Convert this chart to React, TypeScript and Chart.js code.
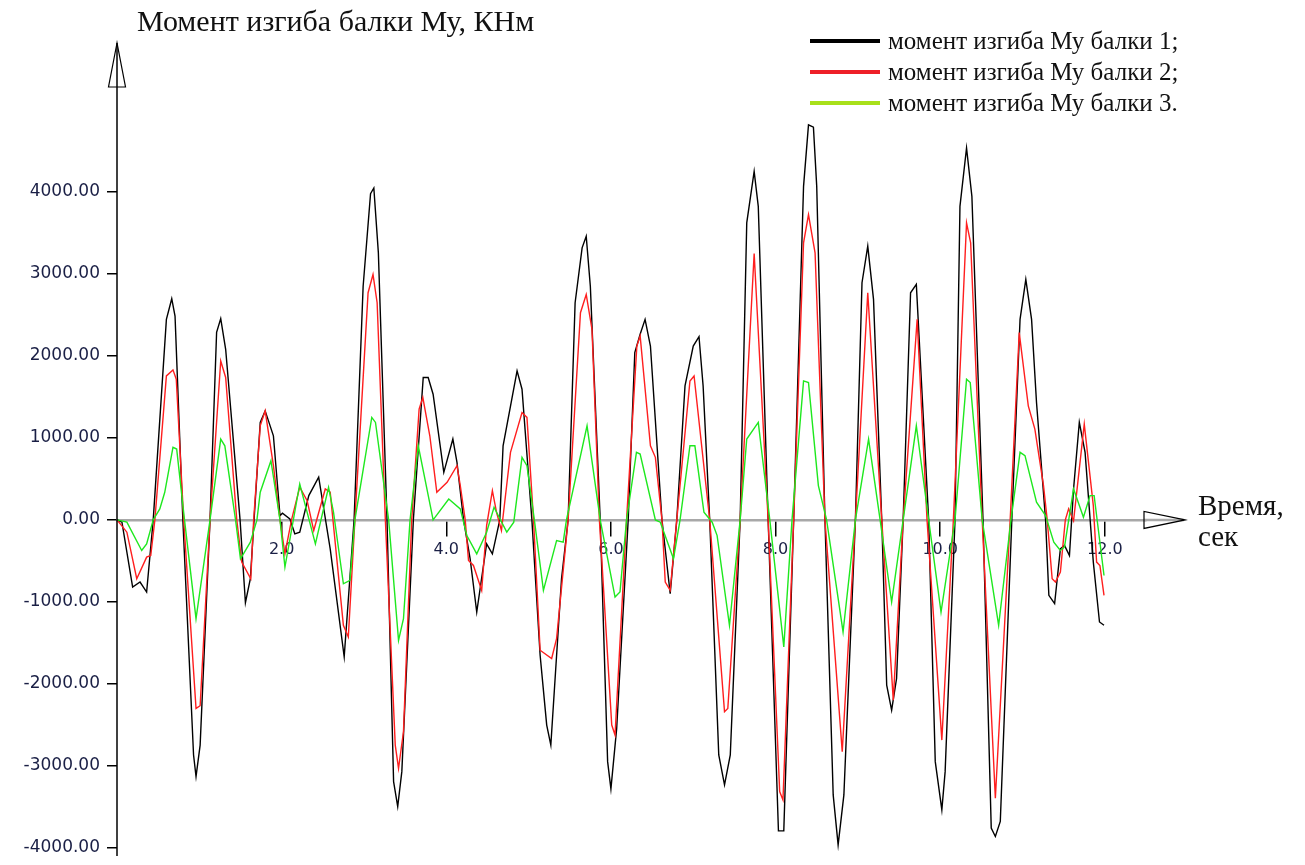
import React, { useEffect, useRef } from "react";
import { Chart, registerables } from "chart.js";

Chart.register(...registerables);

// ---- Data (time in s, moment in kN·m) ----
const t1 = [0.00,0.06,0.19,0.28,0.36,0.44,0.60,0.665,0.705,0.80,0.93,0.96,1.01,1.13,1.21,1.26,1.32,1.495,1.56,1.62,1.665,1.74,1.80,1.90,1.98,2.01,2.10,2.16,2.22,2.33,2.45,2.59,2.76,2.88,2.99,3.08,3.12,3.175,3.28,3.36,3.41,3.46,3.60,3.72,3.78,3.84,3.97,4.08,4.13,4.21,4.29,4.37,4.49,4.56,4.65,4.69,4.86,4.92,5.04,5.14,5.22,5.27,5.40,5.48,5.565,5.65,5.70,5.75,5.87,5.96,6.00,6.07,6.21,6.29,6.355,6.415,6.48,6.62,6.72,6.80,6.90,7.00,7.07,7.12,7.20,7.31,7.38,7.45,7.57,7.65,7.74,7.79,7.91,8.035,8.10,8.22,8.34,8.40,8.46,8.50,8.60,8.70,8.76,8.83,8.97,9.05,9.12,9.19,9.29,9.35,9.41,9.47,9.55,9.64,9.71,9.86,9.94,10.02,10.06,10.18,10.24,10.32,10.385,10.52,10.62,10.67,10.73,10.87,10.97,11.04,11.11,11.17,11.28,11.32,11.39,11.46,11.51,11.57,11.62,11.69,11.76,11.86,11.935,11.99];
const m1 = [0,-28,-819,-758,-880,0,2446,2698,2486,0,-2868,-3131,-2747,0,2288,2455,2081,0,-1010,-718,0,1189,1330,1026,52,81,12,-170,-150,296,520,-353,-1671,0,2851,3980,4049,3258,0,-3192,-3497,-3071,0,1737,1737,1533,580,986,702,0,-475,-1124,-292,-414,0,904,1817,1594,0,-1651,-2503,-2747,-718,0,2649,3318,3460,2851,0,-2949,-3282,-2544,0,2041,2264,2446,2121,0,-900,0,1634,2121,2235,1634,0,-2868,-3233,-2868,0,3623,4251,3825,0,-3793,-3793,0,4069,4819,4791,4069,0,-3355,-3964,-3355,0,2893,3339,2690,0,-2017,-2321,-1935,0,2771,2872,0,-2949,-3538,-3071,0,3825,4536,3947,0,-3760,-3862,-3679,0,2446,2933,2446,1432,0,-921,-1022,-353,-312,-434,377,1189,824,-515,-1245,-1286];

const t2 = [0.00,0.12,0.24,0.36,0.41,0.46,0.60,0.68,0.72,0.81,0.96,1.01,1.13,1.26,1.32,1.455,1.515,1.625,1.66,1.74,1.80,1.90,1.98,2.04,2.12,2.22,2.31,2.39,2.53,2.59,2.75,2.81,2.89,3.05,3.11,3.16,3.26,3.38,3.42,3.48,3.58,3.67,3.715,3.80,3.885,4.01,4.13,4.17,4.23,4.27,4.33,4.43,4.49,4.56,4.61,4.67,4.78,4.92,4.98,5.06,5.14,5.28,5.34,5.48,5.63,5.70,5.77,5.86,6.01,6.05,6.19,6.315,6.355,6.48,6.54,6.62,6.66,6.72,6.80,6.96,7.01,7.20,7.38,7.42,7.57,7.74,7.91,8.05,8.09,8.22,8.34,8.40,8.48,8.60,8.81,8.97,9.12,9.29,9.43,9.55,9.72,9.84,10.02,10.16,10.32,10.37,10.51,10.67,10.85,10.96,11.07,11.15,11.255,11.30,11.36,11.40,11.46,11.52,11.56,11.62,11.75,11.86,11.90,11.94,11.99];
const m2 = [0,-150,-718,-454,-434,0,1756,1830,1716,0,-2300,-2267,0,1939,1737,0,-515,-718,0,1148,1330,661,0,-414,0,400,235,-130,377,337,-1286,-1428,0,2771,2994,2649,0,-2747,-3030,-2584,0,1351,1493,1026,337,459,661,418,0,-495,-556,-860,-69,357,94,-130,824,1310,1250,0,-1590,-1691,-1448,0,2527,2750,2324,0,-2503,-2625,0,2121,2243,904,763,0,-758,-860,0,1695,1756,0,-2340,-2300,0,3249,0,-3314,-3416,0,3380,3724,3258,0,-2827,0,2771,0,-2199,0,2446,0,-2686,0,3623,3380,0,-3396,0,2284,1391,1108,418,0,-718,-758,-637,0,134,-10,1168,174,-515,-556,-921];

const t3 = [0.00,0.12,0.30,0.36,0.44,0.52,0.58,0.68,0.725,0.82,0.96,1.13,1.26,1.31,1.44,1.50,1.62,1.70,1.74,1.87,1.98,2.04,2.22,2.41,2.57,2.63,2.75,2.83,2.89,3.095,3.14,3.30,3.42,3.48,3.56,3.66,3.84,4.03,4.17,4.25,4.37,4.49,4.58,4.735,4.82,4.92,4.98,5.07,5.18,5.34,5.42,5.46,5.71,5.87,6.05,6.11,6.19,6.31,6.355,6.54,6.60,6.76,6.84,6.96,7.02,7.13,7.23,7.29,7.44,7.57,7.65,7.79,7.93,8.10,8.20,8.34,8.40,8.52,8.62,8.82,8.97,9.13,9.27,9.41,9.55,9.71,9.86,10.01,10.18,10.32,10.365,10.51,10.71,10.86,10.97,11.03,11.17,11.28,11.38,11.46,11.51,11.62,11.74,11.82,11.87,11.99];
const m3 = [0,-28,-373,-292,0,134,337,885,864,0,-1205,0,986,904,0,-475,-272,0,337,722,0,-576,438,-292,398,94,-779,-738,0,1250,1189,0,-1469,-1205,0,904,0,255,134,-191,-414,-150,154,-150,-28,763,661,0,-860,-252,-272,0,1148,0,-941,-880,0,824,803,0,-28,-475,0,904,904,94,-28,-191,-1286,0,986,1189,0,-1549,0,1695,1675,418,0,-1367,0,986,0,-1002,0,1148,0,-1124,0,1716,1675,0,-1286,0,824,783,215,52,-272,-373,-330,377,33,296,296,-678];

const xTickValues = [2, 4, 6, 8, 10, 12];
const yTickValues = [-4000, -3000, -2000, -1000, 0, 1000, 2000, 3000, 4000];

const seriesLabels = [
  "момент изгиба Му балки 1;",
  "момент изгиба Му балки 2;",
  "момент изгиба Му балки 3.",
];
const yTitle = "Момент изгиба балки Му, КНм";
const xTitle = ["Время,", "сек"];

const lineColors = ["#000000", "#ff1e1e", "#1ee81e"];
const legendColors = ["#000000", "#ee2028", "#a8e01a"];

const toPts = (t: number[], m: number[]) => t.map((x, i) => ({ x, y: m[i] }));

const decorPlugin = {
  id: "decor",
  afterDraw(chart: any) {
    const ctx = chart.ctx;
    const xs = chart.scales.x;
    const ys = chart.scales.y;
    const ax = xs.getPixelForValue(0);
    const ay = ys.getPixelForValue(0);
    ctx.save();
    // y axis line + arrow
    ctx.strokeStyle = "#000";
    ctx.lineWidth = 1.5;
    ctx.beginPath();
    ctx.moveTo(ax, 856);
    ctx.lineTo(ax, 43);
    ctx.stroke();
    ctx.lineWidth = 1.2;
    ctx.beginPath();
    ctx.moveTo(ax, 43);
    ctx.lineTo(ax - 8.5, 87);
    ctx.lineTo(ax + 8.5, 87);
    ctx.closePath();
    ctx.stroke();
    // x axis arrow
    const xr = xs.right;
    ctx.strokeStyle = "#a8a8a8";
    ctx.lineWidth = 2.5;
    ctx.beginPath();
    ctx.moveTo(xr - 2, ay);
    ctx.lineTo(1184, ay);
    ctx.stroke();
    ctx.strokeStyle = "#000";
    ctx.lineWidth = 1.2;
    ctx.beginPath();
    ctx.moveTo(1185, ay);
    ctx.lineTo(xr - 2, ay - 8.5);
    ctx.lineTo(xr - 2, ay + 8.5);
    ctx.closePath();
    ctx.stroke();
    // titles
    ctx.fillStyle = "#111";
    ctx.textBaseline = "middle";
    ctx.textAlign = "left";
    ctx.font = '30px "Liberation Serif"';
    ctx.fillText(yTitle, 137, 23);
    ctx.font = '29px "Liberation Serif"';
    ctx.fillText(xTitle[0], 1198, 507);
    ctx.fillText(xTitle[1], 1198, 538);
    // legend
    ctx.font = '25px "Liberation Serif"';
    seriesLabels.forEach((lab, i) => {
      const y = 41 + i * 31;
      ctx.strokeStyle = legendColors[i];
      ctx.lineWidth = 4;
      ctx.beginPath();
      ctx.moveTo(810, y);
      ctx.lineTo(880, y);
      ctx.stroke();
      ctx.fillStyle = "#111";
      ctx.fillText(lab, 888, y + 1);
    });
    ctx.restore();
  },
};

export default function App() {
  const ref = useRef<HTMLCanvasElement>(null);
  useEffect(() => {
    if (!ref.current) return;
    const chart = new Chart(ref.current, {
      type: "line",
      data: {
        datasets: [
          { label: seriesLabels[0], data: toPts(t1, m1), borderColor: lineColors[0], borderWidth: 1.4, pointRadius: 0, order: 3, clip: false as any },
          { label: seriesLabels[1], data: toPts(t2, m2), borderColor: lineColors[1], borderWidth: 1.4, pointRadius: 0, order: 2, clip: false as any },
          { label: seriesLabels[2], data: toPts(t3, m3), borderColor: lineColors[2], borderWidth: 1.4, pointRadius: 0, order: 1, clip: false as any },
        ],
      },
      options: {
        animation: false,
        responsive: false,
        devicePixelRatio: 1,
        layout: { padding: { left: 0, right: 159, top: 110, bottom: 15 } },
        plugins: { legend: { display: false }, tooltip: { enabled: false }, title: { display: false } },
        elements: { line: { tension: 0 } },
        scales: {
          x: {
            type: "linear",
            min: 0,
            max: 12.5,
            position: { y: 0 } as any,
            afterBuildTicks: (s: any) => { s.ticks = xTickValues.map((v) => ({ value: v })); },
            grid: { drawOnChartArea: false, tickLength: 15, color: "#000", lineWidth: 1.5, tickWidth: 1.5 } as any,
            border: { display: true, color: "#a8a8a8", width: 2.5 },
            ticks: {
              callback: (v: any) => Number(v).toFixed(1),
              color: "#1a1f45",
              font: { family: "DejaVu Sans", size: 16 },
              padding: 5,
              maxRotation: 0,
              autoSkip: false,
            },
          },
          y: {
            type: "linear",
            min: -4000,
            max: 5000,
            afterFit: (s: any) => { s.width = 117; },
            afterBuildTicks: (s: any) => { s.ticks = yTickValues.map((v) => ({ value: v })); },
            grid: { drawOnChartArea: false, tickLength: 10, color: "#000", lineWidth: 1.5 },
            border: { display: false },
            ticks: {
              callback: (v: any) => Number(v).toFixed(2),
              color: "#1a1f45",
              font: { family: "DejaVu Sans", size: 17 },
              padding: 7,
              autoSkip: false,
            },
          },
        },
      },
      plugins: [decorPlugin],
    });
    return () => chart.destroy();
  }, []);
  return (
    <div style={{ position: "absolute", left: 0, top: 0, width: 1305, height: 865, background: "#fff" }}>
      <canvas ref={ref} width={1305} height={865} />
    </div>
  );
}
